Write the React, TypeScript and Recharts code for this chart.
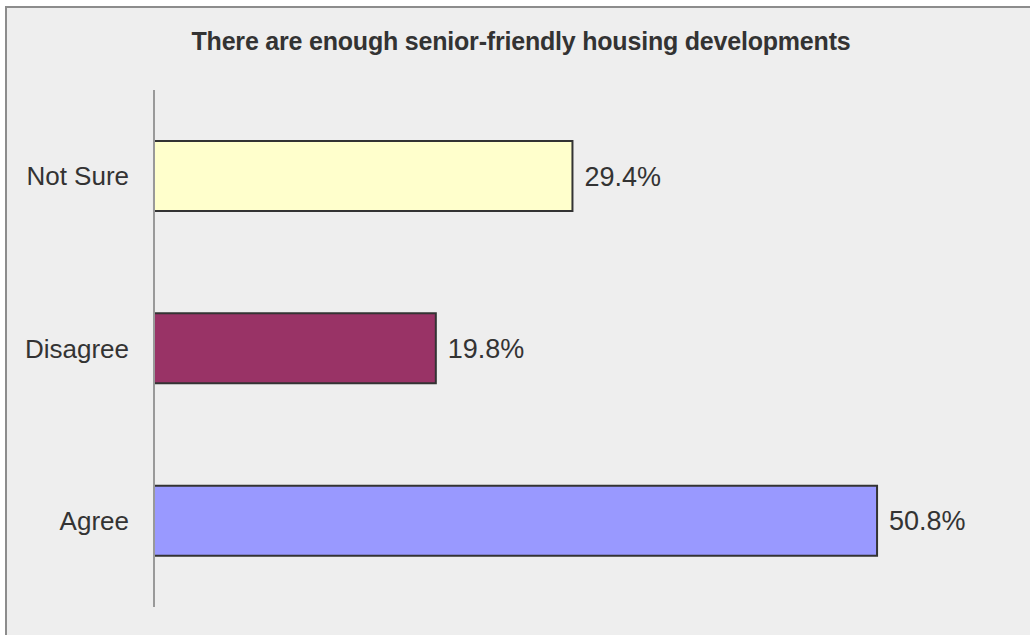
import { BarChart, Bar, XAxis, YAxis, Cell, LabelList } from "recharts";

const CATEGORIES = ["Not Sure", "Disagree", "Agree"];
const VALUES = [29.4, 19.8, 50.8];
const COLORS = ["#ffffcc", "#993366", "#9999ff"];

const FONT = "'Liberation Sans', Arial, sans-serif";

export default function App() {
  const data = CATEGORIES.map((label, i) => ({ label, value: VALUES[i] }));
  return (
    <div style={{ position: "absolute", left: 0, top: 0, width: 1030, height: 635, overflow: "hidden", fontFamily: FONT }}>
      <div
        style={{
          position: "absolute",
          left: 5,
          top: 6,
          width: 1040,
          height: 640,
          border: "2px solid #8c8c8c",
          background: "#eeeeee",
          boxSizing: "border-box",
        }}
      />
      <div
        style={{
          position: "absolute",
          left: 0,
          top: 29,
          width: 1042,
          textAlign: "center",
          fontSize: 25,
          lineHeight: "25px",
          fontWeight: "bold",
          letterSpacing: -0.2,
          color: "#333333",
        }}
      >
        There are enough senior-friendly housing developments
      </div>
      <div style={{ position: "absolute", left: 0, top: 0 }}>
        <BarChart
          width={1030}
          height={635}
          layout="vertical"
          data={data}
          margin={{ top: 90, right: 22, bottom: 28, left: 0 }}
          barSize={70}
        >
          <XAxis type="number" domain={[0, 60]} hide />
          <YAxis
            type="category"
            dataKey="label"
            width={154}
            axisLine={{ stroke: "#999999", strokeWidth: 2 }}
            tickLine={false}
            tickSize={0}
            tickMargin={25}
            tick={{ fontSize: 26, fill: "#333333", fontFamily: FONT }}
          />
          <Bar dataKey="value" stroke="#333333" strokeWidth={2} isAnimationActive={false}>
            {data.map((d, i) => (
              <Cell key={d.label} fill={COLORS[i]} />
            ))}
            <LabelList
              dataKey="value"
              position="right"
              offset={12}
              formatter={(v: number) => `${Number(v).toFixed(1)}%`}
              fill="#333333"
              fontSize={27}
              fontFamily={FONT}
            />
          </Bar>
        </BarChart>
      </div>
    </div>
  );
}
